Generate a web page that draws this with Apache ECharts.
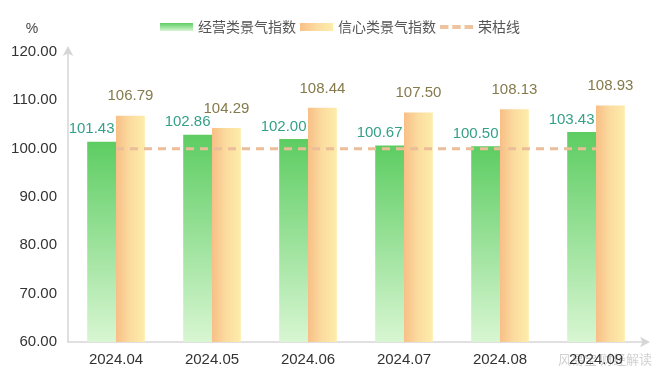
<!DOCTYPE html>
<html>
<head>
<meta charset="utf-8">
<script src="https://cdn.jsdelivr.net/npm/echarts@6/dist/echarts.min.js"></script>
<style>
  html, body { margin: 0; padding: 0; background: #fff; }
  #chart { width: 660px; height: 378px; }
</style>
</head>
<body>
<div id="chart"></div>
<script>
const categories = ['2024.04', '2024.05', '2024.06', '2024.07', '2024.08', '2024.09']
const businessIndex = [101.43, 102.86, 102.00, 100.67, 100.50, 103.43]
const confidenceIndex = [106.79, 104.29, 108.44, 107.50, 108.13, 108.93]
const boomLine = [100, 100, 100, 100, 100, 100]

const chart = echarts.init(document.getElementById('chart'))

const font = '"Liberation Sans", "Noto Sans CJK SC", sans-serif'

const greenFill = new echarts.graphic.LinearGradient(0, 0, 0, 1, [
  { offset: 0, color: '#5dcd62' },
  { offset: 1, color: '#d8f6d2' }
])
const yellowFill = new echarts.graphic.LinearGradient(0, 0, 1, 0, [
  { offset: 0, color: '#f8bf86' },
  { offset: 0.5, color: '#fbdca0' },
  { offset: 1, color: '#fdeca9' }
])

const option = {
  animation: false,
  textStyle: { fontFamily: font },
  legend: {
    top: 15,
    left: 155,
    itemWidth: 33,
    itemHeight: 8,
    itemGap: 4,
    textStyle: { fontSize: 14, color: '#555', fontFamily: '"Noto Sans CJK SC", sans-serif' },
    data: [
      { name: '经营类景气指数', icon: 'rect' },
      { name: '信心类景气指数', icon: 'rect' },
      { name: '荣枯线', icon: 'path://M0,0h9v4h-9z M13,0h9v4h-9z M26,0h9v4h-9z' }
    ]
  },
  grid: {
    left: 68,
    right: 16,
    top: 52,
    bottom: 36
  },
  xAxis: {
    type: 'category',
    data: categories,
    axisLine: {
      lineStyle: { color: '#d6d6d6', width: 1.5 },
      symbol: ['none', 'arrow'],
      symbolSize: [8, 10],
      symbolOffset: [0, 6]
    },
    axisTick: { show: false },
    axisLabel: { fontSize: 15, color: '#333', margin: 10 }
  },
  yAxis: {
    type: 'value',
    name: '%',
    nameLocation: 'end',
    nameGap: 16,
    nameTextStyle: { fontSize: 14, color: '#444', align: 'center', padding: [0, 72, 0, 0] },
    min: 60,
    max: 120,
    interval: 10,
    axisLine: {
      show: true,
      lineStyle: { color: '#d6d6d6', width: 1.5 },
      symbol: ['none', 'arrow'],
      symbolSize: [8, 10],
      symbolOffset: [0, 6]
    },
    axisTick: { show: false },
    splitLine: { show: false },
    axisLabel: {
      fontSize: 15,
      color: '#333',
      margin: 11,
      formatter: v => v.toFixed(2)
    }
  },
  series: [
    {
      name: '经营类景气指数',
      type: 'bar',
      data: businessIndex,
      barWidth: '30%',
      barGap: 0,
      itemStyle: { color: greenFill },
      label: {
        show: true,
        position: 'top',
        offset: [-10, 0],
        fontSize: 15,
        color: '#35a08a',
        formatter: p => p.value.toFixed(2)
      }
    },
    {
      name: '信心类景气指数',
      type: 'bar',
      data: confidenceIndex,
      barWidth: '30%',
      barGap: 0,
      itemStyle: { color: yellowFill },
      label: {
        show: true,
        position: 'top',
        distance: 12,
        fontSize: 15,
        color: '#857a4c',
        formatter: p => p.value.toFixed(2)
      }
    },
    {
      name: '荣枯线',
      type: 'line',
      data: boomLine,
      symbol: 'none',
      itemStyle: { color: '#eec4a0' },
      lineStyle: { color: '#ebbd98', width: 3, type: [8, 6] },
      z: 5
    }
  ],
  graphic: [
    {
      type: 'text',
      right: 8,
      bottom: 12,
      style: {
        text: '风易宝 财经解读',
        fontSize: 13,
        fill: 'rgba(150,150,150,0.45)',
        fontFamily: '"Noto Sans CJK SC", sans-serif'
      }
    }
  ]
}

chart.setOption(option)
</script>
</body>
</html>
